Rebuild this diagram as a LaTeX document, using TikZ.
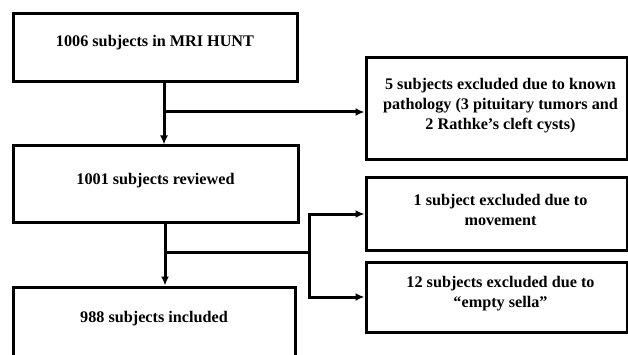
\documentclass[tikz,border=0pt]{standalone}
\usepackage{fontspec}
\setmainfont{Liberation Serif}
\usetikzlibrary{positioning,arrows.meta}
\begin{document}
\begin{tikzpicture}[>={Latex[length=9pt,width=8pt]}, x=1pt, y=-1pt,
        box/.style={draw, line width=3pt, inner sep=0pt},
        txt/.style={align=center, inner sep=0pt, font=\fontsize{16.2}{20}\selectfont\bfseries},
        conn/.style={line width=3pt}]
        \clip (0,0) rectangle (628,355);
        \node (hunt) at (155,48) [box, minimum width=284pt, minimum height=68pt]{};
        \node (excl) at (496.5,109) [box, minimum width=261pt, minimum height=102pt]{};
        \node (reviewed) at (155.5,184) [box, minimum width=285pt, minimum height=76pt]{};
        \node (move) at (496.5,214) [box, minimum width=261pt, minimum height=72pt]{};
        \node (sella) at (496.5,297) [box, minimum width=261pt, minimum height=70pt]{};
        \node (incl) at (154,337) [box, minimum width=282pt, minimum height=100pt]{};
        \node (huntTxt) at ([yshift=-30.5pt]hunt.north) [txt]{1006 subjects in MRI HUNT};
        \node (exclTxt) at ([xshift=4pt,yshift=-49.5pt]excl.north) [txt]{5 subjects excluded due to known\\pathology (3 pituitary tumors and\\2 Rathke’s cleft cysts)};
        \node (reviewedTxt) at ([yshift=-36.5pt]reviewed.north) [txt]{1001 subjects reviewed};
        \node (moveTxt) at ([xshift=4pt,yshift=-33.5pt]move.north) [txt]{1 subject excluded due to\\movement};
        \node (sellaTxt) at ([xshift=4pt,yshift=-33.5pt]sella.north) [txt]{12 subjects excluded due to\\“empty sella”};
        \node (inclTxt) at ([yshift=-33.5pt]incl.north) [txt]{988 subjects included};
        \coordinate (b1) at (164,112);
        \coordinate (b2) at (165,252);
        \coordinate (b3) at (309,252);
        \draw [conn,->](hunt.south -| b1)--(reviewed.north -| b1);
        \draw [conn,->](b1)--(b1 -| excl.west);
        \draw [conn,->](reviewed.south -| b2)--(incl.north -| b2);
        \draw [conn](b2)--(b3);
        \draw [conn,->](b3)|-(move.west);
        \draw [conn,->](b3)|-(sella.west);
    \end{tikzpicture}
\end{document}
